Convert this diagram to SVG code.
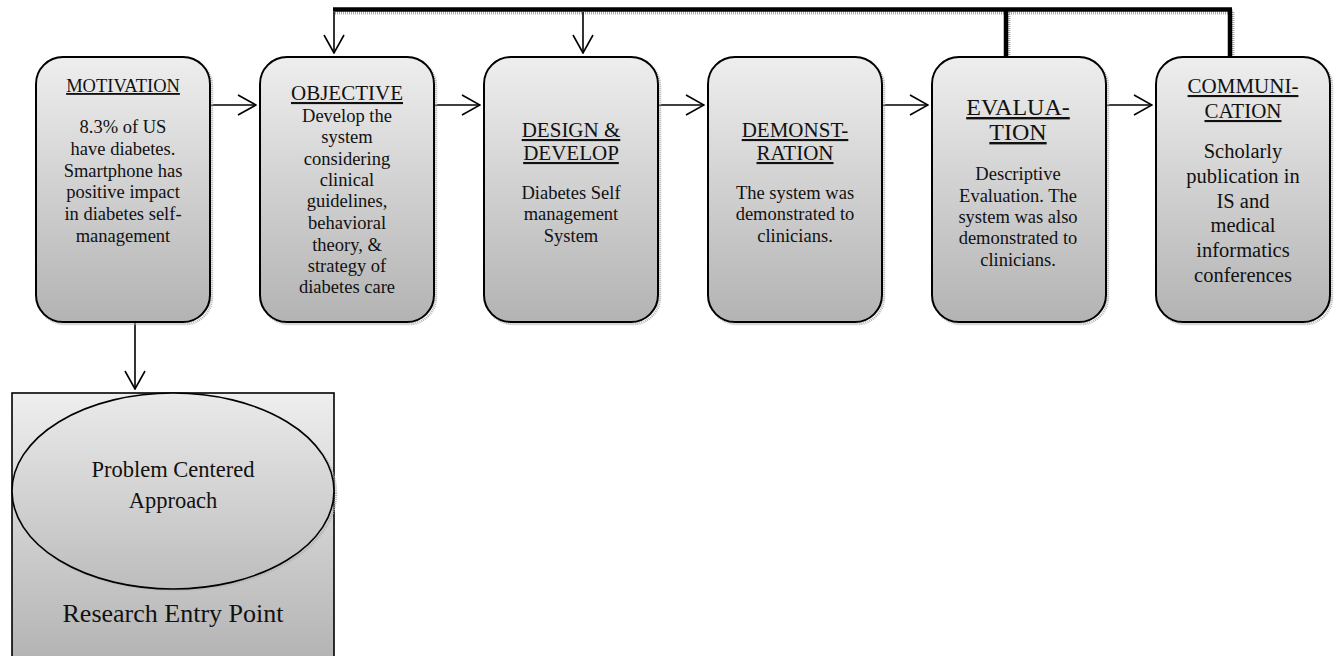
<svg xmlns="http://www.w3.org/2000/svg" width="1335" height="656" viewBox="0 0 1335 656">
<defs>
<linearGradient id="g" x1="0" y1="0" x2="0" y2="1">
<stop offset="0" stop-color="#eeeeee"/>
<stop offset="1" stop-color="#b3b3b3"/>
</linearGradient>
<linearGradient id="ge" x1="0" y1="0" x2="0" y2="1">
<stop offset="0" stop-color="#eaeaea"/>
<stop offset="1" stop-color="#bdbdbd"/>
</linearGradient>
<marker id="ah" viewBox="0 0 20 22" refX="19" refY="11" markerWidth="20" markerHeight="22" markerUnits="userSpaceOnUse" orient="auto">
<path d="M1,1 L19,11 L1,21" fill="none" stroke="#000" stroke-width="1.6"/>
</marker>
</defs>
<style>
.box{fill:url(#g);stroke:#000;stroke-width:2}
.sh{fill:none;stroke:#b0b0b0;stroke-width:2.5;stroke-dasharray:1 1}
text{font-family:"Liberation Serif","Times New Roman",serif;fill:#111;text-anchor:middle}
.t{text-decoration:underline}
.b{font-size:18.5px}
.c{fill:none;stroke:#000;stroke-width:1.6}
.thick{fill:none;stroke:#000;stroke-width:4.5}
.thicksh{fill:none;stroke:#aaa;stroke-width:3;stroke-dasharray:1 1}
</style>

<g id="connectors">
<line class="thicksh" x1="335" y1="13" x2="1233" y2="13"/>
<line class="thicksh" x1="1009" y1="12" x2="1009" y2="58"/>
<line class="thicksh" x1="1233" y1="12" x2="1233" y2="58"/>
<line class="thick" x1="333" y1="9.5" x2="1232" y2="9.5"/>
<line class="thick" x1="1006" y1="9.5" x2="1006" y2="57"/>
<line class="thick" x1="1230" y1="9.5" x2="1230" y2="57"/>
<line class="c" x1="334" y1="12" x2="334" y2="53" marker-end="url(#ah)"/>
<line class="c" x1="583" y1="12" x2="583" y2="53" marker-end="url(#ah)"/>
<line class="c" x1="210" y1="105" x2="256" y2="105" marker-end="url(#ah)"/>
<line class="c" x1="434" y1="105" x2="480" y2="105" marker-end="url(#ah)"/>
<line class="c" x1="658" y1="105" x2="704" y2="105" marker-end="url(#ah)"/>
<line class="c" x1="882" y1="105" x2="928" y2="105" marker-end="url(#ah)"/>
<line class="c" x1="1106" y1="105" x2="1152" y2="105" marker-end="url(#ah)"/>
<line class="c" x1="135" y1="322" x2="135" y2="389" marker-end="url(#ah)"/>
</g>

<g id="motivation">
<rect class="sh" x="38" y="59" width="174" height="265" rx="27"/>
<rect class="box" x="36" y="57" width="174" height="265" rx="27"/>
<text class="t" x="123" y="92" font-size="18.5">MOTIVATION</text>
<text class="b" x="123" y="133">8.3% of US</text>
<text class="b" x="123" y="155">have diabetes.</text>
<text class="b" x="123" y="177">Smartphone has</text>
<text class="b" x="123" y="198">positive impact</text>
<text class="b" x="123" y="220">in diabetes self-</text>
<text class="b" x="123" y="242">management</text>
</g>

<g id="objective">
<rect class="sh" x="262" y="59" width="174" height="265" rx="27"/>
<rect class="box" x="260" y="57" width="174" height="265" rx="27"/>
<text class="t" x="347" y="100" font-size="21">OBJECTIVE</text>
<text class="b" x="347" y="122">Develop the</text>
<text class="b" x="347" y="143">system</text>
<text class="b" x="347" y="165">considering</text>
<text class="b" x="347" y="186">clinical</text>
<text class="b" x="347" y="207">guidelines,</text>
<text class="b" x="347" y="229">behavioral</text>
<text class="b" x="347" y="251">theory, &amp;</text>
<text class="b" x="347" y="272">strategy of</text>
<text class="b" x="347" y="293">diabetes care</text>
</g>

<g id="design">
<rect class="sh" x="486" y="59" width="174" height="265" rx="27"/>
<rect class="box" x="484" y="57" width="174" height="265" rx="27"/>
<text class="t" x="571" y="137" font-size="21">DESIGN &amp;</text>
<text class="t" x="571" y="160" font-size="21">DEVELOP</text>
<text class="b" x="571" y="199">Diabetes Self</text>
<text class="b" x="571" y="220">management</text>
<text class="b" x="571" y="242">System</text>
</g>

<g id="demonstration">
<rect class="sh" x="710" y="59" width="174" height="265" rx="27"/>
<rect class="box" x="708" y="57" width="174" height="265" rx="27"/>
<text class="t" x="795" y="137" font-size="21">DEMONST-</text>
<text class="t" x="795" y="160" font-size="21">RATION</text>
<text class="b" x="795" y="199">The system was</text>
<text class="b" x="795" y="220">demonstrated to</text>
<text class="b" x="795" y="242">clinicians.</text>
</g>

<g id="evaluation">
<rect class="sh" x="934" y="59" width="174" height="265" rx="27"/>
<rect class="box" x="932" y="57" width="174" height="265" rx="27"/>
<text class="t" x="1018" y="115" font-size="24">EVALUA-</text>
<text class="t" x="1018" y="140" font-size="24">TION</text>
<text class="b" x="1018" y="180">Descriptive</text>
<text class="b" x="1018" y="202">Evaluation. The</text>
<text class="b" x="1018" y="223">system was also</text>
<text class="b" x="1018" y="244">demonstrated to</text>
<text class="b" x="1018" y="266">clinicians.</text>
</g>

<g id="communication">
<rect class="sh" x="1158" y="59" width="174" height="265" rx="27"/>
<rect class="box" x="1156" y="57" width="174" height="265" rx="27"/>
<text class="t" x="1243" y="93" font-size="21">COMMUNI-</text>
<text class="t" x="1243" y="118" font-size="21">CATION</text>
<text x="1243" y="158" font-size="20.5">Scholarly</text>
<text x="1243" y="183" font-size="20.5">publication in</text>
<text x="1243" y="208" font-size="20.5">IS and</text>
<text x="1243" y="232" font-size="20.5">medical</text>
<text x="1243" y="257" font-size="20.5">informatics</text>
<text x="1243" y="282" font-size="20.5">conferences</text>
</g>

<g id="entry">
<rect x="12" y="393" width="322" height="270" fill="url(#g)" stroke="#000" stroke-width="1.6"/>
<ellipse cx="175" cy="493" rx="161" ry="97" fill="none" stroke="#b0b0b0" stroke-width="2.5" stroke-dasharray="1 1"/>
<ellipse cx="173" cy="491" rx="161" ry="98" fill="url(#ge)" stroke="#000" stroke-width="1.6"/>
<text x="173" y="477" font-size="22.5">Problem Centered</text>
<text x="173" y="508" font-size="22.5">Approach</text>
<text x="173" y="622" font-size="26">Research Entry Point</text>
</g>
</svg>
